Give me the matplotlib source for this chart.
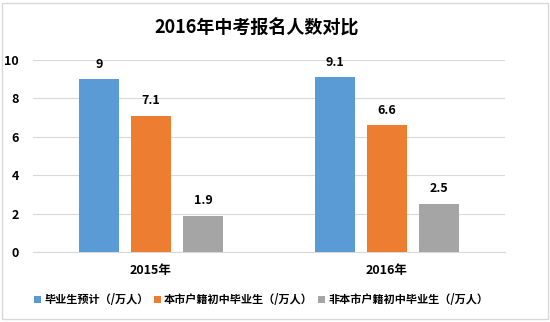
import numpy as np
import matplotlib.pyplot as plt
from matplotlib.patches import Rectangle

plt.rcParams['font.family'] = ['Noto Sans CJK SC', 'DejaVu Sans']

years = ['2015年', '2016年']
series = ['毕业生预计（/万人）', '本市户籍初中毕业生（/万人）', '非本市户籍初中毕业生（/万人）']
values = [[9, 9.1], [7.1, 6.6], [1.9, 2.5]]
colors = ['#5B9BD5', '#ED7D31', '#A5A5A5']

fig = plt.figure(figsize=(5.5, 3.22), dpi=100)
ax = fig.add_axes([0.06, 0.2174, 0.858, 0.5963])

x = np.arange(len(years))
w = 0.17
step = 0.22
for i, (name, vals, c) in enumerate(zip(series, values, colors)):
    pos = x + (i - 1) * step
    bars = ax.bar(pos, vals, w, color=c, label=name, zorder=3)
    for b, v in zip(bars, vals):
        ax.text(b.get_x() + b.get_width() / 2, v + 0.45, str(v), ha='center', va='bottom',
                fontsize=9, fontweight='bold', color='#000000')

ax.set_xlim(-0.5, 1.5)
ax.set_ylim(0, 10)
ax.set_yticks([0, 2, 4, 6, 8, 10])
ax.set_xticks(x)
ax.set_xticklabels(years)
ax.grid(axis='y', color='#D9D9D9', linewidth=0.8, zorder=0)
for s in ['top', 'right', 'left']:
    ax.spines[s].set_visible(False)
ax.spines['bottom'].set_color('#D9D9D9')
ax.tick_params(length=0)
ax.tick_params(axis='y', pad=10)
ax.tick_params(axis='x', pad=9)
for lab in ax.get_xticklabels() + ax.get_yticklabels():
    lab.set_fontsize(9)
    lab.set_fontweight('bold')

fig.text(0.467, 0.913, '2016年中考报名人数对比', ha='center', va='center', fontsize=13, fontweight='bold')

fig.legend(loc='center', bbox_to_anchor=(0.475, 0.07), ncol=3, frameon=False,
           prop={'size': 8, 'weight': 'bold'}, handlelength=0.6, handleheight=0.6,
           handletextpad=0.3, columnspacing=0.5)

fig.patches.append(Rectangle((0.003, 0.01), 0.993, 0.98, transform=fig.transFigure,
                             fill=False, edgecolor='#D9D9D9', linewidth=1))

fig.savefig('out.png', dpi=100)
